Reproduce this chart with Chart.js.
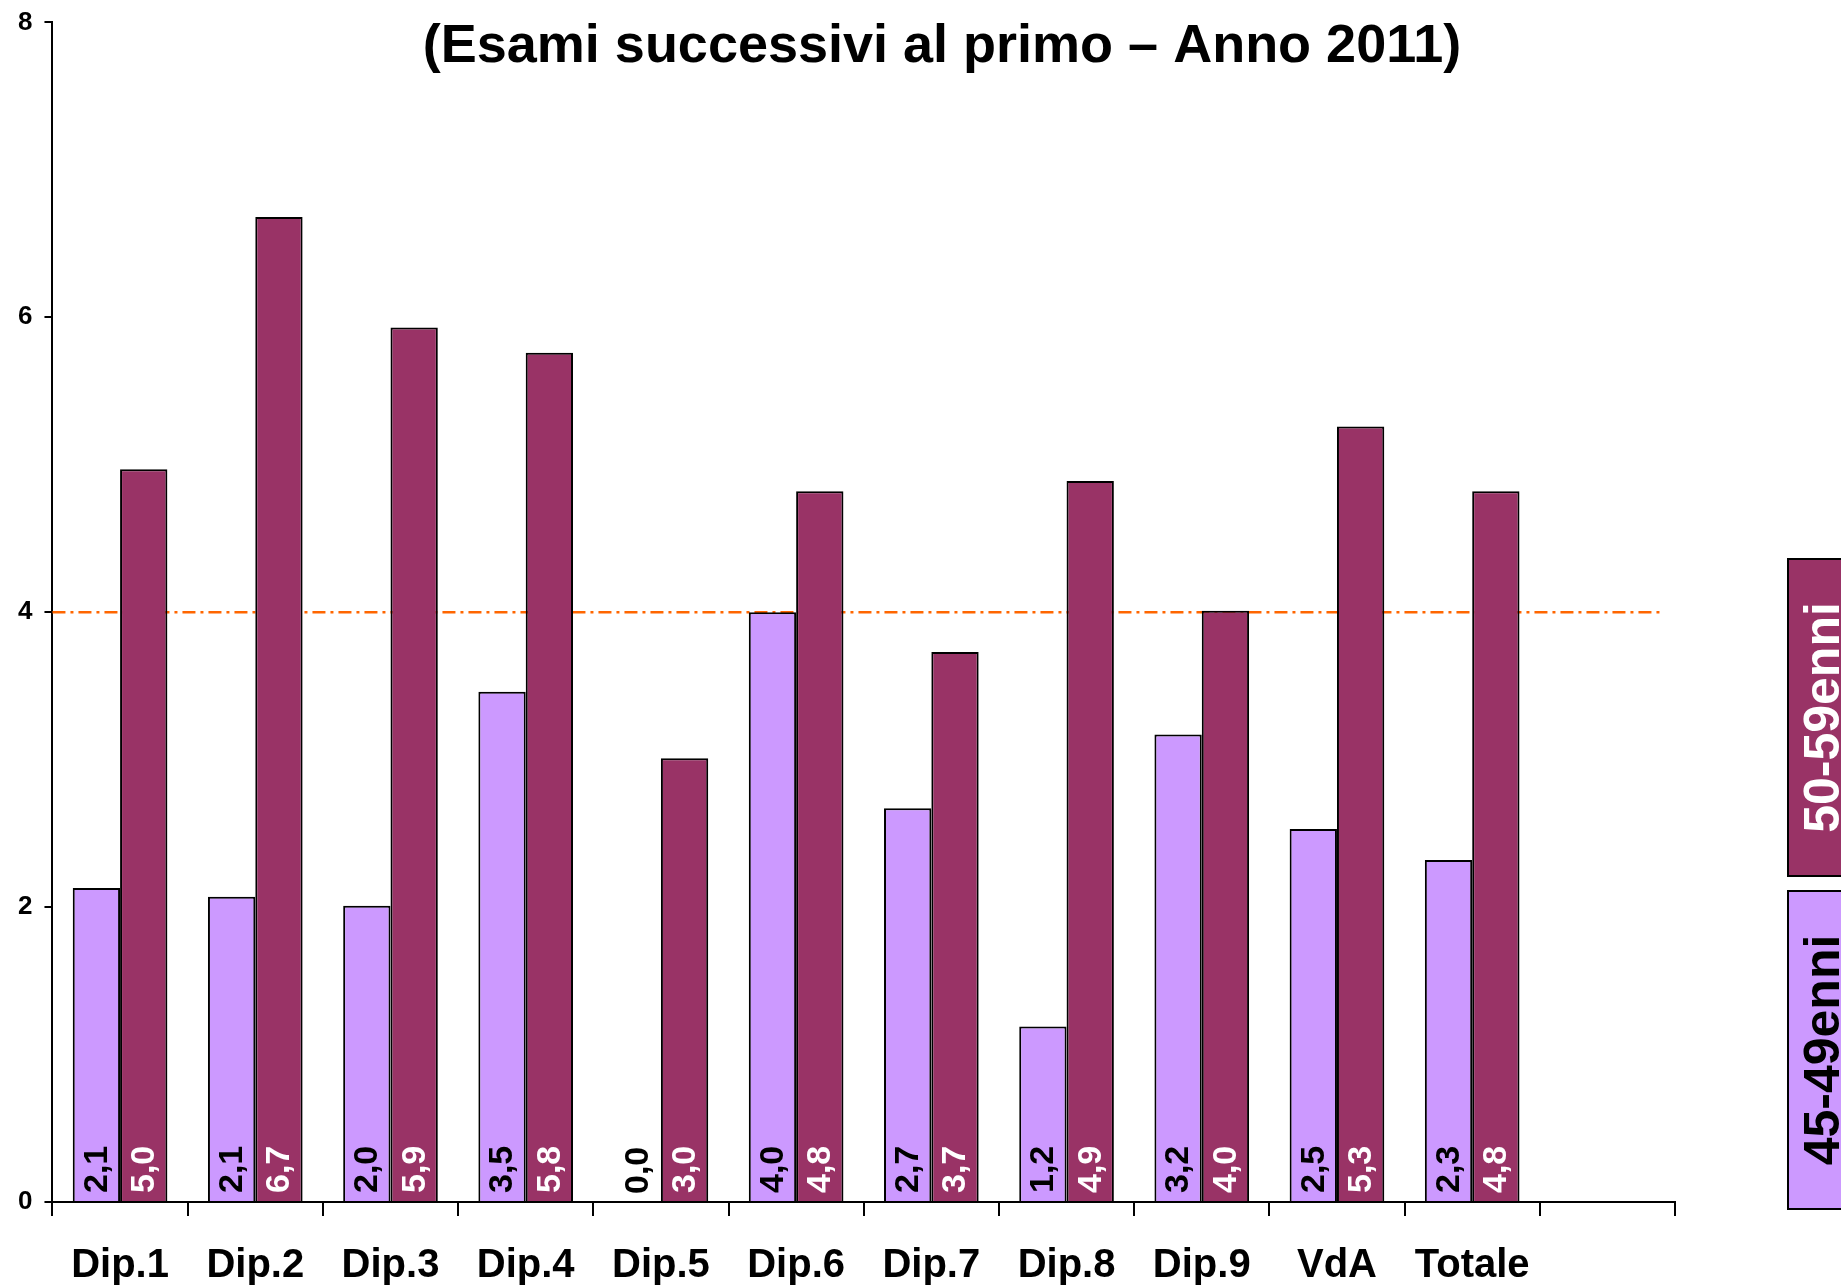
<!DOCTYPE html>
<html>
<head>
<meta charset="utf-8">
<script src="https://cdn.jsdelivr.net/npm/chart.js@4.4.0/dist/chart.umd.min.js"></script>
<style>
  html, body { margin: 0; padding: 0; background: #fff; }
</style>
</head>
<body>
<canvas id="myChart" width="1841" height="1287"></canvas>
<script>
var categories = ['Dip.1', 'Dip.2', 'Dip.3', 'Dip.4', 'Dip.5', 'Dip.6', 'Dip.7', 'Dip.8', 'Dip.9', 'VdA', 'Totale', ''];
var eta4549 = [2.13, 2.07, 2.01, 3.46, 0.0, 4.0, 2.67, 1.19, 3.17, 2.53, 2.32, null];
var eta5059 = [4.97, 6.68, 5.93, 5.76, 3.01, 4.82, 3.73, 4.89, 4.01, 5.26, 4.82, null];
var seriesNames = ['45-49enni', '50-59enni'];
var yTicks = [0, 2, 4, 6, 8];
var soglia = 4;
var titolo = '(Esami successivi al primo \u2013 Anno 2011)';

var FONT = '"Liberation Sans", Arial, sans-serif';

function fmt(v) {
  return v.toFixed(1).replace('.', ',');
}

var extras = {
  id: 'extras',
  beforeDatasetsDraw: function(chart) {
    var c = chart.ctx, a = chart.chartArea;
    var y = chart.scales.y.getPixelForValue(soglia);
    c.save();
    c.strokeStyle = '#FF6600';
    c.lineWidth = 2.5;
    c.setLineDash([13, 5, 3, 5]);
    c.beginPath();
    c.moveTo(a.left, y);
    c.lineTo(a.right - 14, y);
    c.stroke();
    c.restore();
  },
  afterDatasetsDraw: function(chart) {
    var c = chart.ctx;
    c.save();
    c.font = 'bold 34px ' + FONT;
    c.textAlign = 'left';
    c.textBaseline = 'middle';
    chart.data.datasets.forEach(function(ds, i) {
      var meta = chart.getDatasetMeta(i);
      meta.data.forEach(function(bar, j) {
        var v = ds.data[j];
        if (v === null || v === undefined) return;
        c.save();
        c.translate(bar.x, bar.base - 8);
        c.rotate(-Math.PI / 2);
        c.fillStyle = i === 1 ? '#FFFFFF' : '#000000';
        c.fillText(fmt(v), 0, 1);
        c.restore();
      });
    });
    c.restore();
  },
  afterDraw: function(chart) {
    var c = chart.ctx;
    c.save();
    // titolo
    c.font = 'bold 54px ' + FONT;
    c.fillStyle = '#000';
    c.textAlign = 'center';
    c.textBaseline = 'alphabetic';
    c.fillText(titolo, 942, 62);
    // legenda verticale
    var boxes = [
      { ds: 1, top: 559, bottom: 876 },
      { ds: 0, top: 891, bottom: 1209 }
    ];
    boxes.forEach(function(b) {
      var ds = chart.data.datasets[b.ds];
      c.fillStyle = ds.backgroundColor;
      c.strokeStyle = '#000';
      c.lineWidth = 2;
      c.fillRect(1788, b.top, 80, b.bottom - b.top);
      c.strokeRect(1788, b.top, 80, b.bottom - b.top);
      c.save();
      c.translate(1823, (b.top + b.bottom) / 2);
      c.rotate(-Math.PI / 2);
      c.font = 'bold 50px ' + FONT;
      c.textAlign = 'center';
      c.textBaseline = 'middle';
      c.fillStyle = b.ds === 1 ? '#FFFFFF' : '#000000';
      c.fillText(ds.label, 0, 2);
      c.restore();
    });
    c.restore();
  }
};

var ctx = document.getElementById('myChart').getContext('2d');
var myChart = new Chart(ctx, {
  type: 'bar',
  data: {
    labels: categories,
    datasets: [{
      label: seriesNames[0],
      data: eta4549,
      backgroundColor: '#CC99FF',
      borderColor: '#000000',
      borderWidth: 2,
      categoryPercentage: 0.7,
      barPercentage: 1.0
    }, {
      label: seriesNames[1],
      data: eta5059,
      backgroundColor: '#993366',
      borderColor: '#000000',
      borderWidth: 2,
      categoryPercentage: 0.7,
      barPercentage: 1.0
    }]
  },
  options: {
    responsive: false,
    animation: false,
    layout: {
      padding: { left: 6, right: 166, top: 21, bottom: -29 }
    },
    plugins: {
      legend: { display: false },
      title: { display: false },
      tooltip: { enabled: false }
    },
    scales: {
      x: {
        offset: true,
        grid: {
          offset: true,
          drawOnChartArea: false,
          drawTicks: true,
          tickLength: 14,
          color: '#000',
          lineWidth: 2
        },
        border: { color: '#000', width: 2 },
        ticks: {
          color: '#000',
          padding: 26,
          maxRotation: 0,
          autoSkip: false,
          font: { family: FONT, size: 40, weight: 'bold' }
        }
      },
      y: {
        min: 0,
        max: 8,
        afterBuildTicks: function(scale) {
          scale.ticks = yTicks.map(function(v) { return { value: v }; });
        },
        grid: {
          drawOnChartArea: false,
          drawTicks: true,
          tickLength: 8,
          color: '#000',
          lineWidth: 2
        },
        border: { color: '#000', width: 2 },
        ticks: {
          color: '#000',
          padding: 12,
          font: { family: FONT, size: 26, weight: 'bold', lineHeight: 0.8 }
        }
      }
    }
  },
  plugins: [extras]
});
</script>
</body>
</html>
